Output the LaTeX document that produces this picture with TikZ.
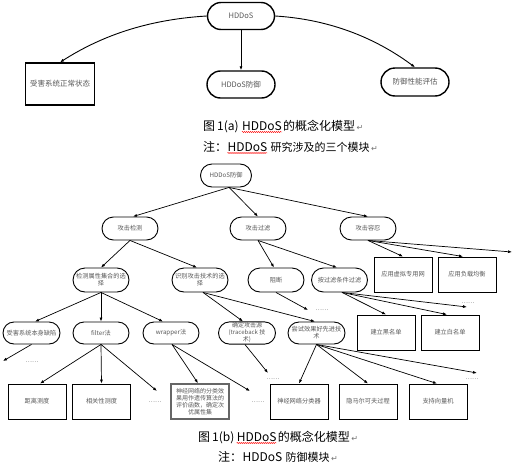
\documentclass[tikz,border=0pt]{standalone}
\usepackage{fontspec}
\newfontfamily\cjk{Noto Sans CJK SC}
\newfontfamily\dejavu{DejaVu Sans}
\usetikzlibrary{shapes.misc,arrows.meta,decorations.pathmorphing}
\tikzset{
 stad/.style={rounded rectangle, draw, line width=0.9pt, minimum width=58pt, minimum height=23pt, inner sep=1pt, font=\cjk\fontsize{6.2}{7.2}\selectfont, text=black!65, align=center},
 topstad/.style={stad, line width=1.4pt, minimum width=69pt, minimum height=27pt, font=\cjk\fontsize{7.5}{9}\selectfont},
 rbox/.style={rectangle, draw, line width=0.9pt, minimum width=58pt, minimum height=35pt, inner sep=1pt, font=\cjk\fontsize{6.2}{7.4}\selectfont, text=black!65, align=center},
 arr/.style={-{Latex[length=4pt,width=3pt]}, line width=0.7pt},
 dotlbl/.style={font=\cjk\fontsize{6}{7}\selectfont, inner sep=0pt, text=black!70},
 captxt/.style={font=\cjk\fontsize{12}{14}\selectfont, inner sep=0pt, anchor=base west},
 retm/.style={font=\dejavu\fontsize{8}{9}\selectfont, inner sep=0pt, anchor=base west, text=black!55},
 redwave/.style={red, line width=0.4pt, decorate, decoration={snake, amplitude=0.6pt, segment length=2pt}},
}
\begin{document}
\begin{tikzpicture}[x=1pt,y=-1pt]
\fill[white] (0,0) rectangle (513,463);
\useasboundingbox (0,0) rectangle (513,463);

% ---------- part (a)
\node[topstad] (hddos) at (241,16) {HDDoS};
\node[rbox, line width=1.4pt, minimum width=69pt, minimum height=42pt, font=\cjk\fontsize{7.5}{9}\selectfont] (victim) at (60,84) {受害系统正常状态};
\node[topstad, minimum width=70pt] (defense) at (241,84.5) {HDDoS防御};
\node[topstad, minimum width=70pt, minimum height=28pt] (eval) at (415,82) {防御性能评估};

\draw[arr, line width=0.9pt] (hddos.west) .. controls (140,20) and (95,40) .. (victim.north);
\draw[arr, line width=0.9pt] (hddos.south) -- (defense.north);
\draw[arr, line width=0.9pt] (hddos.east) .. controls (340,20) and (385,45) .. (eval.north);

% captions (a)
\node[captxt] (ca1) at (203,130) {图\,1(a)};
\node[captxt] (ca2) at ([xshift=3]ca1.base east) {HDDoS};
\node[captxt] (ca3) at ([xshift=1]ca2.base east) {的概念化模型};
\node[retm] (ca4) at ([xshift=1]ca3.base east) {↵};
\draw[redwave] ([yshift=-2]ca2.base west) -- ([yshift=-2]ca2.base east);
\node[captxt] (cb1) at (203,151) {注：};
\node[captxt] (cb2) at (cb1.base east) {HDDoS};
\node[captxt, font=\cjk\fontsize{11}{13}\selectfont] (cb3) at ([xshift=3]cb2.base east) {研究涉及的三个模块};
\node[retm] (cb4) at ([xshift=1]cb3.base east) {↵};
\draw[redwave] ([yshift=-2]cb2.base west) -- ([yshift=-2]cb2.base east);

% ---------- part (b)
\node[stad, minimum width=53pt] (d0) at (226,175.5) {HDDoS防御};
\node[stad] (det) at (130,228.5) {攻击检测};
\node[stad] (fil) at (258,228.5) {攻击过滤};
\node[stad] (tol) at (368,228.5) {攻击容忍};
\node[rbox] (vpn) at (403,274.5) {应用虚拟专用网};
\node[rbox] (lb) at (467,274.5) {应用负载均衡};
\node[stad, minimum height=24pt] (attr) at (101,280) {检测属性集合的选\\择};
\node[stad, minimum height=24pt] (tech) at (200,280) {识别攻击技术的选\\择};
\node[stad, minimum height=24pt] (blk) at (276,280) {阻断};
\node[stad, minimum height=24pt] (cond) at (339.5,280) {按过滤条件过滤};
\node[stad, minimum width=59pt, minimum height=22pt] (flaw) at (31.5,333) {受害系统本身缺陷};
\node[stad, minimum height=22pt] (filt) at (101,333) {filter法};
\node[stad, minimum height=22pt] (wrap) at (171,333) {wrapper法};
\node[stad, minimum width=59pt, minimum height=22pt, font=\cjk\fontsize{6}{7}\selectfont] (trace) at (247,333) {确定攻击源\\(traceback 技\\术)};
\node[stad, minimum width=59pt, minimum height=22pt] (adv) at (316.5,333) {尝试效果好先进技\\术};
\node[rbox] (black) at (386,332.5) {建立黑名单};
\node[rbox] (white) at (450,332.5) {建立白名单};
\node[rbox] (dist) at (37,401.5) {距离测度};
\node[rbox] (corr) at (101.5,401.5) {相关性测度};
\node[rbox, line width=1.5pt, draw=black!60, font=\cjk\fontsize{6}{7.2}\selectfont] (nn) at (200,401.5) {神经网络的分类效\\果用作遗传算法的\\评价函数，确定次\\优属性集};
\node[rbox] (nnc) at (299,401.5) {神经网络分类器};
\node[rbox] (hmm) at (368,401.5) {隐马尔可夫过程};
\node[rbox] (svm) at (438,401.5) {支持向量机};

% dots
\node[dotlbl] (dt1) at (32,362) {……};
\node[dotlbl] (dt2) at (155,402) {……};
\node[dotlbl] (dt3) at (258,402) {……};
\node[dotlbl] (dt4) at (273,379) {……};
\node[dotlbl] (dt5) at (322,310) {……};
\node[dotlbl] (dt6) at (468,303) {……};
\node[dotlbl] (dt7) at (472,379) {……};

% free ends
\coordinate (eTol) at (512,252);
\coordinate (eFlaw) at (3,361);
\coordinate (eFilt) at (157,391);
\coordinate (eWrap) at (250,391);
\coordinate (eTrace) at (268,373);
\coordinate (eBlk) at (308,310);
\coordinate (eCond) at (467,307);
\coordinate (eAdv) at (477,373);

% connectors
\draw[arr] ([xshift=3]d0.south) -- ([xshift=3]det.north);
\draw[arr] ([xshift=3]d0.south) -- (fil.north);
\draw[arr] ([xshift=3]d0.south) -- (tol.north);
\draw[arr] (det.south) -- (attr.north);
\draw[arr] (det.south) -- ([xshift=-3]tech.north);
\draw[arr] (fil.south) -- ([xshift=-2]blk.north);
\draw[arr] (fil.south) -- ([xshift=-2.5]cond.north);
\draw[arr] (tol.south) -- (vpn.north);
\draw[arr] (tol.south) -- ([xshift=-4]lb.north);
\draw[arr] (tol.south) -- (eTol);
\draw[arr] (attr.south) -- ([xshift=3.5]flaw.north);
\draw[arr] (attr.south) -- (filt.north);
\draw[arr] (attr.south) -- ([xshift=-8]wrap.north);
\draw[arr] ([xshift=3]tech.south) -- ([xshift=-4]trace.north);
\draw[arr] ([xshift=3]tech.south) -- ([xshift=-1.5]adv.north);
\draw[arr] (blk.south) -- (eBlk);
\draw[arr] ([xshift=2.5]cond.south) -- (black.north);
\draw[arr] ([xshift=2.5]cond.south) -- ([xshift=-3]white.north);
\draw[arr] ([xshift=2.5]cond.south) -- (eCond);
\draw[arr] (flaw.south) -- (eFlaw);
\draw[arr] (filt.south) -- ([xshift=3]dist.north);
\draw[arr] (filt.south) -- (corr.north);
\draw[arr] (filt.south) -- (eFilt);
\draw[arr] ([xshift=1]wrap.south) -- ([xshift=-2]nn.north);
\draw[arr] ([xshift=1]wrap.south) -- (eWrap);
\draw[arr] ([xshift=-2]trace.south) -- (eTrace);
\draw[arr] (adv.south) -- (nnc.north);
\draw[arr] (adv.south) -- (hmm.north);
\draw[arr] (adv.south) -- ([xshift=-1]svm.north);
\draw[arr] (adv.south) -- (eAdv);

% captions (b)
\node[captxt] (cc1) at (198,441) {图\,1(b)};
\node[captxt] (cc2) at ([xshift=2]cc1.base east) {HDDoS};
\node[captxt] (cc3) at ([xshift=1]cc2.base east) {的概念化模型};
\node[retm] (cc4) at ([xshift=1]cc3.base east) {↵};
\draw[redwave] ([yshift=-2]cc2.base west) -- ([yshift=-2]cc2.base east);
\node[captxt] (cd1) at (218,461) {注：};
\node[captxt] (cd2) at (cd1.base east) {HDDoS};
\node[captxt, font=\cjk\fontsize{11}{13}\selectfont] (cd3) at ([xshift=3]cd2.base east) {防御模块};
\node[retm] (cd4) at ([xshift=1]cd3.base east) {↵};
\end{tikzpicture}
\end{document}
